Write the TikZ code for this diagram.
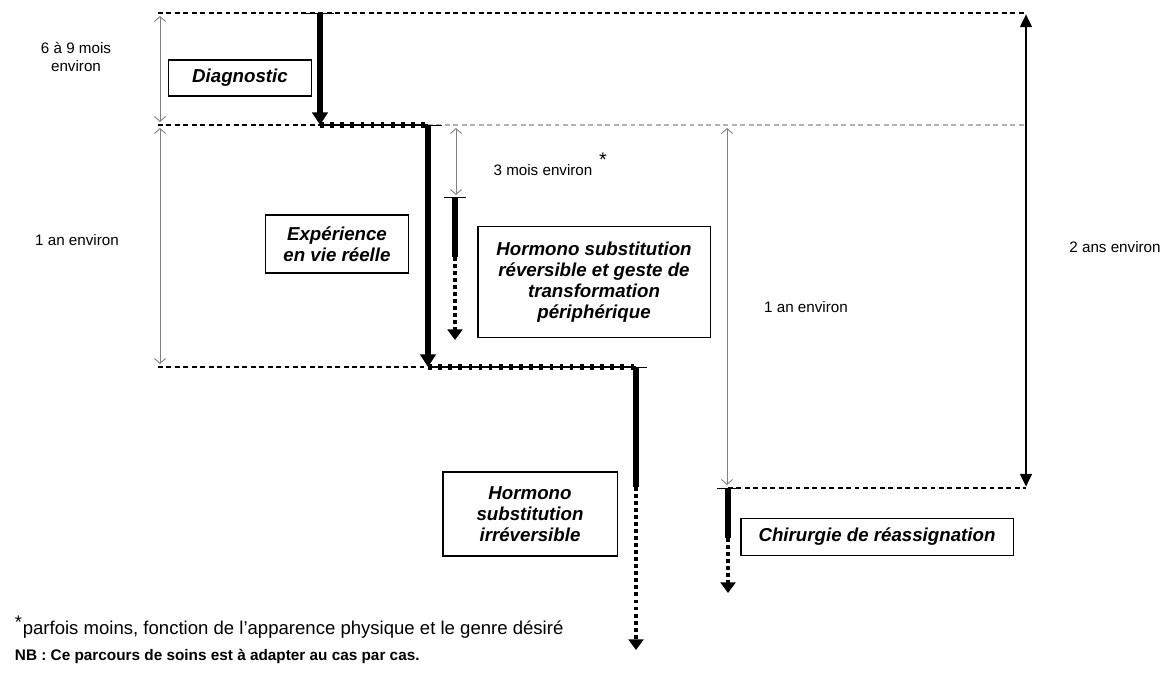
\documentclass[tikz,border=0pt]{standalone}
\usepackage{fontspec}
\setmainfont{Liberation Sans}
\usetikzlibrary{arrows.meta}

\tikzset{
  lien/.style={line width=0.75pt,dash pattern=on 3.5pt off 2.5pt},
  liengris/.style={lien,gray!60},
  cote/.style={gray,line width=0.65pt,{Straight Barb[length=3.5pt,width=8pt]}-{Straight Barb[length=3.5pt,width=8pt]}},
  cotenoire/.style={line width=0.9pt,{Triangle[length=9pt,width=8.5pt]}-{Triangle[length=9pt,width=8.5pt]}},
  phase/.style={line width=4pt,{Bar[width=15pt,line width=1pt 0]}-},
  fleche/.style={line width=4pt,{Bar[width=20pt,line width=1pt 0]}-{Triangle[length=9pt,width=11pt]}},
  suite/.style={line width=3.4pt,dash pattern=on 2.8pt off 2.2pt,-{Triangle[length=7.5pt,width=10.5pt]}},
  pointille/.style={line width=0.9pt,postaction={draw,line width=4pt,dash pattern=on 2.6pt off 4.6pt}},
  boite/.style={draw,line width=0.75pt,align=center,inner sep=2pt,font=\bfseries\itshape\fontsize{13.3}{15}\selectfont},
  duree/.style={align=center,font=\fontsize{10.8}{12.5}\selectfont}
}

\begin{document}
\begin{tikzpicture}[x=0.025cm,y=-0.025cm]
\useasboundingbox (0,0) rectangle (1176,678);

\coordinate (a1) at (158,13); \coordinate (a2) at (320,13); \coordinate (a3) at (1026,13);
\coordinate (b1) at (158,125); \coordinate (b2) at (320,125); \coordinate (b3) at (428,125); \coordinate (b4) at (1026,125);
\coordinate (c1) at (158,367); \coordinate (c2) at (428,367); \coordinate (c3) at (636,367);
\coordinate (d1) at (728,488); \coordinate (d2) at (1026,488);

\node[boite,minimum width=3.575cm,minimum height=0.9cm] (diag) at (240,78) {Diagnostic};
\node[boite,minimum width=3.575cm,minimum height=1.45cm] (vie) at (337,244) {Expérience\\en vie réelle};
\node[boite,minimum width=5.8cm,minimum height=2.775cm] (hrev) at (594,282) {Hormono substitution\\réversible et geste de\\transformation\\périphérique};
\node[boite,minimum width=4.35cm,minimum height=2.1cm] (hirr) at (530,514) {Hormono\\substitution\\irréversible};
\node[boite,minimum width=6.8cm,minimum height=0.925cm] (chir) at (877,537) {Chirurgie de réassignation};

\node[duree] (d69) at (76,57) {6 à 9 mois\\environ};
\node[duree] (d1a) at (77,240) {1 an environ};
\node[duree] (d3m) at (543,170) {3 mois environ};
\node[font=\fontsize{14}{14}\selectfont] (ast) at (603,160) {*};
\node[duree] (d1b) at (806,307) {1 an environ};
\node[duree] (d2a) at (1115,247) {2 ans environ};

\node[anchor=west,font=\fontsize{13.2}{15}\selectfont] (note) at (10,627) {\textsuperscript{\fontsize{13}{13}\selectfont *}parfois moins, fonction de l'apparence physique et le genre désiré};
\node[anchor=west,font=\bfseries\fontsize{10.9}{13}\selectfont] (nb) at (10,656) {NB : Ce parcours de soins est à adapter au cas par cas.};

% lignes de repere
\draw[lien] (a1) -- (a3); \draw[lien] (b1) -- (b2); \draw[pointille] (b2) -- (b3); \draw[liengris] (b3) -- (b4);
\draw[lien] (c1) -- (c2); \draw[pointille] (c2) -- (c3); \draw[lien] (d1) -- (d2);

% durees
\coordinate (g1) at (160,16); \coordinate (g2) at (160,122); \coordinate (g3) at (160,128); \coordinate (g4) at (160,364);
\coordinate (m1) at (456,128); \coordinate (m2) at (456,195);
\coordinate (r1) at (727,128); \coordinate (r2) at (727,485);
\draw[cote] (g1) -- (g2); \draw[cote] (g3) -- (g4); \draw[cote] (m1) -- (m2); \draw[cote] (r1) -- (r2);
\draw[cotenoire] ([yshift=-1pt]a3) -- ([yshift=1pt]d2);

% parcours
\coordinate (h1) at (455,197); \coordinate (h2) at (455,257); \coordinate (h3) at (455,340);
\coordinate (i1) at (636,487); \coordinate (i2) at (636,650);
\coordinate (k1) at (728,538); \coordinate (k2) at (728,593);
\draw[fleche] (a2) -- (b2); \draw[fleche] (b3) -- (c2);
\draw[phase] (h1) -- (h2); \draw[suite] (h2) -- (h3);
\draw[phase] (c3) -- (i1); \draw[suite] (i1) -- (i2);
\draw[phase] (d1) -- (k1); \draw[suite] (k1) -- (k2);
\end{tikzpicture}
\end{document}
